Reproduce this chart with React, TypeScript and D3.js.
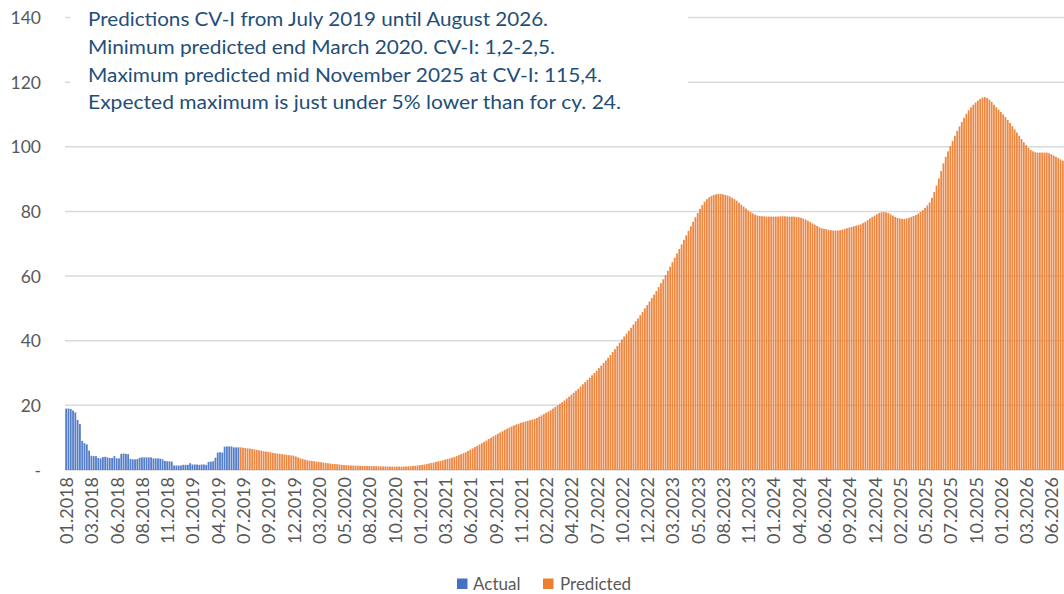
import React from "react";
import * as d3 from "d3";

// Actual weekly values (Jan 2018 – Jun 2019)
const actualValues: number[] = [
  19.0, 19.0, 18.9, 18.4, 17.8, 15.5, 14.2, 9.0, 8.3, 7.9,
  6.0, 4.4, 4.3, 4.3, 3.7, 3.6, 4.0, 4.1, 3.9, 3.7,
  3.7, 4.3, 3.6, 3.6, 5.0, 5.1, 5.0, 4.9, 3.4, 3.3,
  3.3, 3.4, 3.8, 3.9, 3.9, 3.9, 3.9, 3.9, 3.6, 3.6,
  3.6, 3.5, 3.3, 2.8, 2.7, 2.7, 2.6, 1.4, 1.4, 1.4,
  1.4, 1.6, 1.6, 1.6, 2.1, 1.7, 1.7, 1.7, 1.6, 1.7,
  1.7, 1.6, 2.5, 2.6, 2.7, 3.8, 5.4, 5.5, 5.4, 7.2,
  7.3, 7.3, 7.3, 7.0, 7.0, 7.0,
];

// Predicted weekly values (Jul 2019 – 2026)
const predictedValues: number[] = [
  7.0, 6.9, 6.8, 6.7, 6.6, 6.5, 6.4, 6.2, 6.1, 6.0,
  5.8, 5.7, 5.6, 5.5, 5.3, 5.2, 5.1, 5.0, 4.9, 4.8,
  4.7, 4.6, 4.5, 4.45, 4.2, 3.9, 3.6, 3.4, 3.2, 3.0,
  2.9, 2.8, 2.7, 2.6, 2.5, 2.4, 2.3, 2.2, 2.1, 2.0,
  1.9, 1.85, 1.8, 1.7, 1.6, 1.55, 1.5, 1.45, 1.4, 1.38,
  1.35, 1.33, 1.3, 1.28, 1.26, 1.24, 1.22, 1.2, 1.18, 1.16,
  1.14, 1.12, 1.1, 1.1, 1.08, 1.06, 1.05, 1.05, 1.05, 1.05,
  1.05, 1.08, 1.1, 1.14, 1.18, 1.24, 1.3, 1.4, 1.5, 1.6,
  1.7, 1.85, 2.0, 2.15, 2.3, 2.5, 2.65, 2.8, 3.0, 3.2,
  3.4, 3.6, 3.8, 4.0, 4.3, 4.6, 4.9, 5.2, 5.5, 5.9,
  6.3, 6.7, 7.1, 7.5, 7.9, 8.3, 8.7, 9.1, 9.6, 10.0,
  10.4, 10.8, 11.2, 11.6, 12.0, 12.4, 12.8, 13.1, 13.5, 13.8,
  14.1, 14.3, 14.6, 14.8, 15.0, 15.2, 15.4, 15.6, 15.8, 16.1,
  16.5, 16.9, 17.3, 17.7, 18.1, 18.5, 19.0, 19.5, 20.0, 20.5,
  21.0, 21.5, 22.1, 22.7, 23.3, 23.9, 24.5, 25.1, 25.8, 26.5,
  27.2, 27.9, 28.6, 29.3, 30.0, 30.7, 31.5, 32.3, 33.1, 33.9,
  34.7, 35.6, 36.5, 37.4, 38.4, 39.4, 40.4, 41.3, 42.2, 43.1,
  44.0, 45.0, 46.0, 46.9, 47.9, 48.9, 50.0, 51.0, 52.1, 53.2,
  54.3, 55.4, 56.6, 57.8, 59.0, 60.3, 61.6, 62.9, 64.3, 65.7,
  67.0, 68.4, 69.8, 71.2, 72.6, 74.0, 75.4, 76.8, 78.2, 79.5,
  80.8, 82.0, 83.0, 83.8, 84.4, 84.8, 85.1, 85.3, 85.4, 85.4,
  85.3, 85.1, 84.9, 84.6, 84.2, 83.8, 83.3, 82.7, 82.1, 81.5,
  80.9, 80.3, 79.8, 79.4, 79.0, 78.7, 78.6, 78.5, 78.5, 78.4,
  78.4, 78.4, 78.4, 78.4, 78.4, 78.5, 78.5, 78.5, 78.4, 78.4,
  78.4, 78.4, 78.3, 78.2, 78.0, 77.8, 77.5, 77.1, 76.7, 76.3,
  75.9, 75.5, 75.1, 74.8, 74.6, 74.5, 74.3, 74.2, 74.1, 74.1,
  74.1, 74.2, 74.4, 74.6, 74.8, 75.0, 75.2, 75.4, 75.6, 75.8,
  76.0, 76.4, 76.8, 77.3, 77.8, 78.3, 78.7, 79.1, 79.5, 79.7,
  79.8, 79.7, 79.5, 79.1, 78.7, 78.3, 78.0, 77.8, 77.7, 77.7,
  77.8, 78.0, 78.3, 78.6, 78.9, 79.3, 79.8, 80.4, 81.1, 81.9,
  82.8, 84.2, 86.0, 88.0, 90.2, 92.5, 94.9, 96.9, 98.6, 100.2,
  101.8, 103.4, 104.9, 106.3, 107.7, 109.0, 110.2, 111.3, 112.2, 113.0,
  113.7, 114.3, 114.8, 115.2, 115.4, 115.1, 114.6, 113.9, 113.0, 112.2,
  111.5, 110.8, 110.0, 109.2, 108.3, 107.4, 106.4, 105.4, 104.4, 103.4,
  102.4, 101.4, 100.5, 99.7, 99.0, 98.6, 98.3, 98.2, 98.2, 98.2,
  98.2, 98.2, 98.0, 97.7, 97.3, 96.9, 96.5, 96.1, 95.7,
];

// X tick labels, one every 11 weeks
const xTickLabels: string[] = [
  "01.2018", "03.2018", "06.2018", "08.2018", "11.2018", "01.2019", "04.2019", "07.2019",
  "09.2019", "12.2019", "03.2020", "05.2020", "08.2020", "10.2020", "01.2021", "03.2021",
  "06.2021", "09.2021", "11.2021", "02.2022", "04.2022", "07.2022", "10.2022", "12.2022",
  "03.2023", "05.2023", "08.2023", "11.2023", "01.2024", "04.2024", "06.2024", "09.2024",
  "12.2024", "02.2025", "05.2025", "07.2025", "10.2025", "01.2026", "03.2026", "06.2026",
];
const xTickEvery = 11;

const yTicks: number[] = [0, 20, 40, 60, 80, 100, 120, 140];

const seriesNames: string[] = ["Actual", "Predicted"];
const seriesColors: string[] = ["#4472C4", "#ED7D31"];

const noteLines: string[] = [
  "Predictions CV-I from July 2019 until August 2026.",
  "Minimum predicted end March 2020. CV-I: 1,2-2,5.",
  "Maximum predicted mid November 2025 at CV-I: 115,4.",
  "Expected maximum is just under 5% lower than for cy. 24.",
];
const noteWidths: number[] = [460, 467, 514, 533];

const W = 1064;
const H = 594;
const FONT = "Lato, 'Open Sans', sans-serif";

export default function App() {
  const data = [
    ...actualValues.map((v) => ({ v, s: 0 })),
    ...predictedValues.map((v) => ({ v, s: 1 })),
  ];
  const x = d3
    .scaleBand<number>()
    .domain(d3.range(data.length))
    .range([65, 1064])
    .paddingInner(0.22)
    .paddingOuter(0.11);
  const y = d3.scaleLinear().domain([0, 140]).range([470, 17.5]);

  return (
    <svg
      width={W}
      height={H}
      style={{ position: "absolute", left: 0, top: 0, background: "#fff" }}
      fontFamily={FONT}
    >
      <rect x={0} y={0} width={W} height={H} fill="#fff" />
      {/* gridlines */}
      {yTicks.map((t) => (
        <line
          key={t}
          x1={65}
          x2={1064}
          y1={y(t)}
          y2={y(t)}
          stroke="#D9D9D9"
          strokeWidth={1.5}
        />
      ))}
      {/* y labels */}
      {yTicks.map((t) => (
        <text
          key={t}
          x={41}
          y={y(t)}
          textAnchor="end"
          dominantBaseline="central"
          fontSize={17.5}
          fill="#595959"
        >
          {t === 0 ? "-" : t}
        </text>
      ))}
      {/* bars */}
      <g>
        {data.map((d, i) => (
          <rect
            key={i}
            x={x(i)}
            y={y(d.v)}
            width={x.bandwidth()}
            height={y(0) - y(d.v)}
            fill={seriesColors[d.s]}
            fillOpacity={0.92}
          />
        ))}
      </g>
      {/* x labels */}
      {xTickLabels.map((lab, k) => {
        const cx = (x(k * xTickEvery) ?? 0) + x.bandwidth() / 2;
        return (
          <text
            key={lab}
            transform={`translate(${cx},477) rotate(-90)`}
            textAnchor="end"
            dominantBaseline="central"
            fontSize={18}
            fill="#595959"
          >
            {lab}
          </text>
        );
      })}
      {/* note box */}
      <rect x={70} y={0} width={618} height={120} fill="#fff" />
      {noteLines.map((line, k) => (
        <text
          key={k}
          x={88}
          y={26 + k * 27.8}
          fontSize={19.5}
          fill="#1F4E79"
          textLength={noteWidths[k]}
          lengthAdjust="spacingAndGlyphs"
        >
          {line}
        </text>
      ))}
      {/* legend */}
      <g>
        <rect x={457} y={578.5} width={10.5} height={10.5} fill={seriesColors[0]} />
        <text x={473} y={583.5} dominantBaseline="central" fontSize={17} fill="#595959">
          {seriesNames[0]}
        </text>
        <rect x={543} y={578.5} width={10.5} height={10.5} fill={seriesColors[1]} />
        <text x={560} y={583.5} dominantBaseline="central" fontSize={17} fill="#595959">
          {seriesNames[1]}
        </text>
      </g>
    </svg>
  );
}
